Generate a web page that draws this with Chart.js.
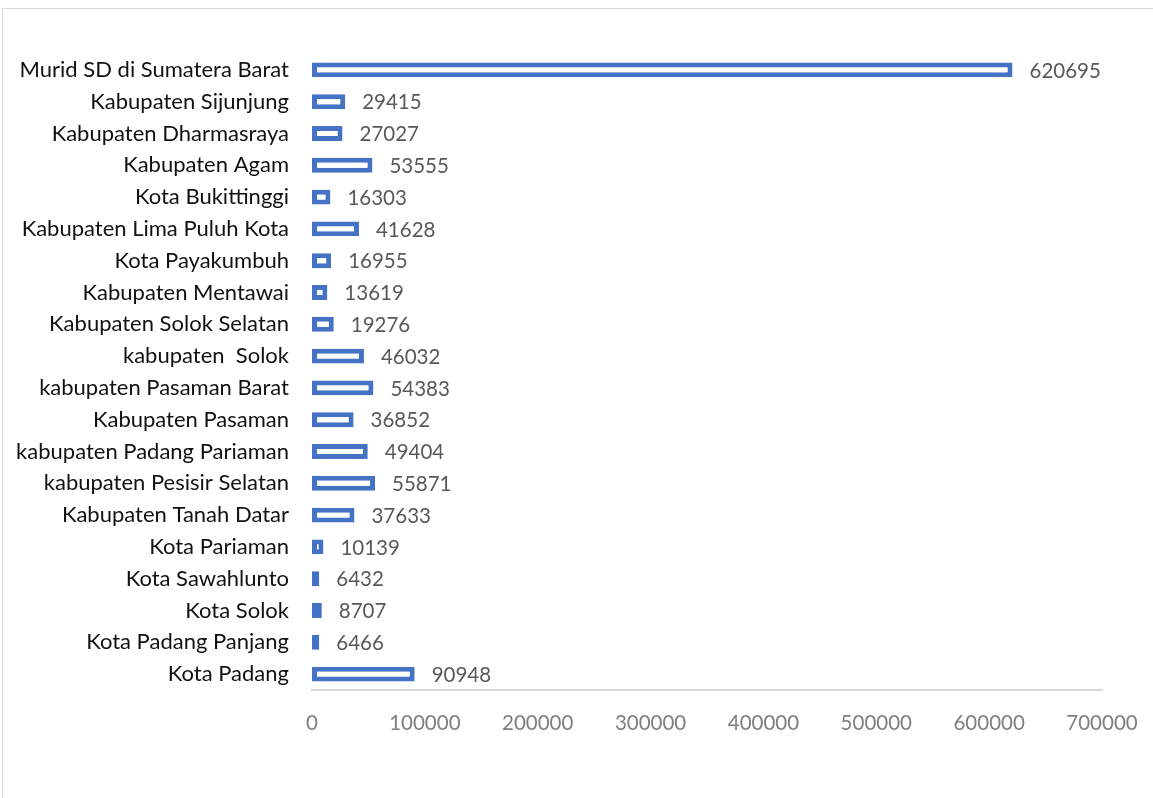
<!DOCTYPE html>
<html>
<head>
<meta charset="utf-8">
<script src="https://cdn.jsdelivr.net/npm/chart.js@4"></script>
<style>
html,body{margin:0;padding:0;background:#fff;overflow:hidden;}
#frame{position:absolute;left:2px;top:8px;width:1200px;height:900px;border:1px solid #d9d9d9;box-sizing:border-box;}
#wrap{position:absolute;left:0;top:0;width:1153px;height:798px;}
</style>
</head>
<body>
<div id="frame"></div>
<div id="wrap"><canvas id="c" width="1153" height="798"></canvas></div>
<script>
const categories = [
  "Murid SD di Sumatera Barat",
  "Kabupaten Sijunjung",
  "Kabupaten Dharmasraya",
  "Kabupaten Agam",
  "Kota Bukittinggi",
  "Kabupaten Lima Puluh Kota",
  "Kota Payakumbuh",
  "Kabupaten Mentawai",
  "Kabupaten Solok Selatan",
  "kabupaten  Solok",
  "kabupaten Pasaman Barat",
  "Kabupaten Pasaman",
  "kabupaten Padang Pariaman",
  "kabupaten Pesisir Selatan",
  "Kabupaten Tanah Datar",
  "Kota Pariaman",
  "Kota Sawahlunto",
  "Kota Solok",
  "Kota Padang Panjang",
  "Kota Padang"
];
const values = [620695, 29415, 27027, 53555, 16303, 41628, 16955, 13619, 19276, 46032, 54383, 36852, 49404, 55871, 37633, 10139, 6432, 8707, 6466, 90948];
const xTicks = [0, 100000, 200000, 300000, 400000, 500000, 600000, 700000];

const FONT = "Lato";
const NUM_SIZE = 20.5;
const CAT_SIZE = 22;

const valueLabels = {
  id: 'valueLabels',
  afterDatasetsDraw(chart) {
    const ctx = chart.ctx;
    const meta = chart.getDatasetMeta(0);
    ctx.save();
    ctx.font = NUM_SIZE + "px '" + FONT + "'";
    ctx.fillStyle = '#595959';
    ctx.textBaseline = 'middle';
    ctx.textAlign = 'left';
    meta.data.forEach((bar, i) => {
      ctx.fillText(String(chart.data.datasets[0].data[i]), bar.x + 17, bar.y + 1);
    });
    ctx.restore();
  }
};

new Chart(document.getElementById('c'), {
  type: 'bar',
  data: {
    labels: categories,
    datasets: [{
      data: values,
      backgroundColor: '#ffffff',
      borderColor: '#4472C4',
      borderWidth: 5,
      borderSkipped: false,
      categoryPercentage: 1,
      barPercentage: 0.47
    }]
  },
  options: {
    indexAxis: 'y',
    responsive: false,
    animation: false,
    devicePixelRatio: 1,
    layout: { padding: { left: 0, top: 54, right: 51, bottom: 0 } },
    plugins: { legend: { display: false }, tooltip: { enabled: false } },
    scales: {
      x: {
        min: 0, max: 700000,
        afterBuildTicks(scale) { scale.ticks = xTicks.map(v => ({ value: v })); },
        afterFit(scale) { scale.height = 108; scale.paddingRight = 0; scale.paddingLeft = 0; },
        grid: { display: false, drawTicks: false },
        border: { display: true, color: '#d9d9d9', width: 2 },
        ticks: {
          color: '#7f7f7f',
          font: { family: FONT, size: NUM_SIZE },
          padding: 21,
          maxRotation: 0,
          autoSkip: false,
          callback: (v) => String(v)
        }
      },
      y: {
        afterFit(scale) { scale.width = 312; scale.paddingTop = 0; scale.paddingBottom = 0; },
        grid: { display: false, drawTicks: false },
        border: { display: false },
        ticks: {
          color: '#111111',
          font: { family: FONT, size: CAT_SIZE },
          padding: 23,
          autoSkip: false
        }
      }
    }
  },
  plugins: [valueLabels]
});
</script>
</body>
</html>
